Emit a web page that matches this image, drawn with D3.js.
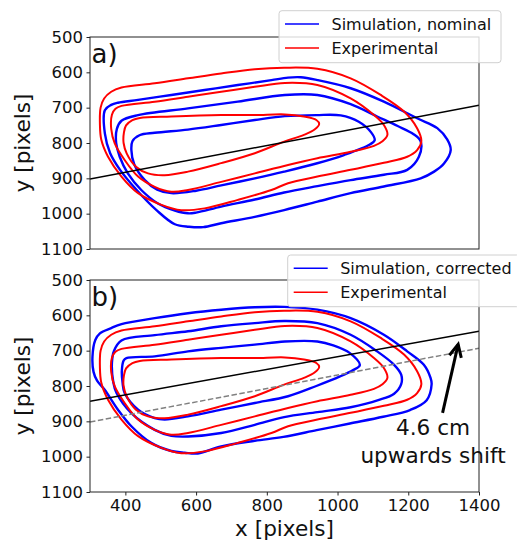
<!DOCTYPE html>
<html>
<head>
<meta charset="utf-8">
<script src="https://cdn.jsdelivr.net/npm/d3@7"></script>
<style>
  html, body { margin: 0; padding: 0; background: #fff; }
  svg text { font-family: "DejaVu Sans", sans-serif; fill: #111; }
</style>
</head>
<body>
<svg id="chart" width="517" height="544"></svg>
<script>
// Axis ticks
const xTicks = [400, 600, 800, 1000, 1200, 1400];
const yTicks = [500, 600, 700, 800, 900, 1000, 1100];

// Experimental contours (same in both panels), [x, y] in image pixels
const expOuter = [[330,700],[340,674],[360,655],[389,643],[483,631],[577,617],[671,603],[766,591],[849,587],[943,590],[1037,617],[1122,664],[1188,711],[1225,758],[1237,795],[1225,820],[1197,839],[1131,856],[1037,876],[943,895],[860,914],[813,933],[718,961],[624,985],[558,990],[502,975],[436,942],[389,895],[351,839],[332,791],[328,745]];
const expMiddle = [[362,720],[372,703],[389,695],[483,683],[577,669],[671,655],[766,641],[851,630],[943,636],[1037,674],[1103,721],[1131,749],[1141,777],[1127,795],[1103,808],[1037,825],[943,843],[860,862],[766,886],[671,910],[577,933],[530,938],[483,924],[436,895],[398,848],[370,801],[360,760]];
const expInner = [[396,770],[402,750],[420,735],[441,729],[530,725],[671,721],[766,721],[851,719],[905,725],[940,735],[948,746],[935,762],[905,777],[849,796],[766,829],[671,857],[577,881],[511,891],[464,886],[430,867],[404,830],[395,800]];

// Simulation, nominal
const nomOuter = [[342,707],[360,692],[379,686],[436,678],[530,664],[624,650],[718,636],[813,622],[860,615],[896,614],[943,622],[1037,645],[1131,683],[1225,730],[1282,758],[1310,790],[1320,820],[1301,858],[1273,881],[1235,900],[1131,923],[1037,942],[943,966],[849,990],[766,1009],[671,1027],[620,1038],[580,1037],[540,1030],[488,990],[432,933],[385,876],[357,829],[342,773]];
const nomMiddle = [[374,800],[376,760],[389,737],[436,721],[577,702],[718,683],[851,664],[943,664],[1037,690],[1112,725],[1170,752],[1215,775],[1235,795],[1230,839],[1197,876],[1131,890],[1037,905],[943,922],[849,940],[766,960],[671,980],[600,997],[577,999],[540,991],[492,971],[445,933],[407,886],[384,839]];
const nomInner = [[425,860],[417,820],[420,795],[440,778],[483,771],[577,762],[671,749],[766,735],[851,724],[940,721],[1009,722],[1060,740],[1095,770],[1105,792],[1090,805],[1018,834],[940,858],[849,881],[766,900],[671,920],[600,935],[530,942],[490,932],[455,905]];

// Simulation, corrected
const corOuter = [[310,760],[307,717],[315,670],[328,651],[360,636],[389,625],[483,608],[577,594],[671,584],[766,577],[849,576],[943,584],[1037,608],[1131,655],[1197,702],[1244,740],[1263,777],[1266,795],[1252,840],[1205,868],[1129,887],[1035,906],[941,925],[847,944],[766,955],[671,971],[605,991],[568,989],[530,984],[473,961],[417,914],[379,867],[341,810],[320,785]];
const corMiddle = [[366,790],[362,735],[368,700],[389,671],[483,656],[577,645],[671,631],[766,622],[849,616],[943,622],[1037,655],[1112,702],[1160,740],[1180,768],[1180,795],[1160,822],[1115,840],[1037,860],[943,874],[849,888],[766,910],[671,933],[577,943],[530,941],[483,924],[417,877],[375,820]];
const corInner = [[392,790],[390,758],[395,728],[403,721],[483,716],[577,702],[671,692],[766,683],[851,674],[943,674],[988,685],[1035,707],[1063,741],[1044,755],[1007,773],[940,800],[860,829],[766,848],[671,867],[577,886],[511,895],[483,891],[436,867],[398,820]];

// Reference line and its shifted copy (x endpoints, y endpoints)
const lineX = [300, 1400];
const refLineY = [902, 693];
const shiftedLineY = [843, 645];

// Arrow: tail and head in data coordinates
const arrowFrom = [1297, 876];
const arrowTo = [1341, 682];

const svg = d3.select("#chart");

const x = d3.scaleLinear().domain([300, 1400]).range([90, 479]);

const panels = [
  { top: 37, bottom: 249, tag: "a)", sim: [nomOuter, nomMiddle, nomInner],
    simLabel: "Simulation, nominal", legend: {x: 279, y: 10.7, w: 222, h: 52} },
  { top: 280, bottom: 492, tag: "b)", sim: [corOuter, corMiddle, corInner],
    simLabel: "Simulation, corrected", legend: {x: 287.7, y: 255, w: 232, h: 51.7} }
];

panels.forEach((p, i) => {
  const y = d3.scaleLinear().domain([500, 1100]).range([p.top, p.bottom]);
  const g = svg.append("g");
  const clipId = "clip" + i;
  g.append("clipPath").attr("id", clipId)
    .append("rect").attr("x", 90).attr("y", p.top).attr("width", 389).attr("height", p.bottom - p.top);

  const plot = g.append("g").attr("clip-path", `url(#${clipId})`);

  const smoothLine = d3.line().x(d => x(d[0])).y(d => y(d[1])).curve(d3.curveCatmullRomClosed.alpha(0.5));

  // Simulation contours
  p.sim.forEach(c => {
    plot.append("path").attr("d", smoothLine(c))
      .attr("fill", "none").attr("stroke", "#0000ff").attr("stroke-width", 2.4);
  });

  // Experimental contours
  [expOuter, expMiddle, expInner].forEach(c => {
    plot.append("path").attr("d", smoothLine(c))
      .attr("fill", "none").attr("stroke", "#ff0000").attr("stroke-width", 2);
  });

  // Straight lines
  if (i === 0) {
    plot.append("line")
      .attr("x1", x(lineX[0])).attr("y1", y(refLineY[0]))
      .attr("x2", x(lineX[1])).attr("y2", y(refLineY[1]))
      .attr("stroke", "#000").attr("stroke-width", 1.5);
  } else {
    plot.append("line")
      .attr("x1", x(lineX[0])).attr("y1", y(shiftedLineY[0]))
      .attr("x2", x(lineX[1])).attr("y2", y(shiftedLineY[1]))
      .attr("stroke", "#000").attr("stroke-width", 1.5);
    plot.append("line")
      .attr("x1", x(lineX[0])).attr("y1", y(refLineY[0]))
      .attr("x2", x(lineX[1])).attr("y2", y(refLineY[1]))
      .attr("stroke", "#808080").attr("stroke-width", 1.5)
      .attr("stroke-dasharray", "5.5,2.5");
  }

  // Frame
  g.append("rect").attr("x", 90).attr("y", p.top).attr("width", 389).attr("height", p.bottom - p.top)
    .attr("fill", "none").attr("stroke", "#222").attr("stroke-width", 1);

  // y axis
  const yAxis = d3.axisLeft(y).tickValues(yTicks).tickFormat(d3.format("d")).tickSize(3.5).tickPadding(3.5);
  const ya = g.append("g").attr("transform", "translate(90,0)").call(yAxis);
  ya.select(".domain").remove();
  ya.selectAll("line").attr("stroke", "#222");
  ya.selectAll("text").style("font-size", "16.5px").attr("fill", "#111");

  // y label
  g.append("text")
    .attr("transform", `translate(30,${(p.top + p.bottom) / 2}) rotate(-90)`)
    .attr("text-anchor", "middle").style("font-size", "21.6px").text("y [pixels]");

  // panel tag
  g.append("text").attr("x", 91.5).attr("y", p.top + 26).style("font-size", "26px").text(p.tag);

  // x axis on the lower panel only
  if (i === 1) {
    const xAxis = d3.axisBottom(x).tickValues(xTicks).tickFormat(d3.format("d")).tickSize(3.5).tickPadding(3.5);
    const xa = g.append("g").attr("transform", `translate(0,${p.bottom})`).call(xAxis);
    xa.select(".domain").remove();
    xa.selectAll("line").attr("stroke", "#222");
    xa.selectAll("text").style("font-size", "16.5px").attr("fill", "#111");

    g.append("text").attr("x", 284.5).attr("y", 536)
      .attr("text-anchor", "middle").style("font-size", "21.6px").text("x [pixels]");

    // arrow with open head
    const ax1 = x(arrowFrom[0]), ay1 = y(arrowFrom[1]);
    const ax2 = x(arrowTo[0]), ay2 = y(arrowTo[1]);
    g.append("line").attr("x1", ax1).attr("y1", ay1).attr("x2", ax2).attr("y2", ay2)
      .attr("stroke", "#000").attr("stroke-width", 3);
    const ang = Math.atan2(ay1 - ay2, ax1 - ax2);
    const hl = 14, spread = 0.45;
    const headPts = [
      [ax2 + hl * Math.cos(ang + spread), ay2 + hl * Math.sin(ang + spread)],
      [ax2, ay2],
      [ax2 + hl * Math.cos(ang - spread), ay2 + hl * Math.sin(ang - spread)]
    ];
    g.append("path").attr("d", d3.line()(headPts))
      .attr("fill", "none").attr("stroke", "#000").attr("stroke-width", 3)
      .attr("stroke-linejoin", "miter");

    g.append("text").attr("x", 433).attr("y", 435).attr("text-anchor", "middle")
      .style("font-size", "21.6px").text("4.6 cm");
    g.append("text").attr("x", 433).attr("y", 463).attr("text-anchor", "middle")
      .style("font-size", "21.6px").text("upwards shift");
  }

  // legend
  const L = p.legend;
  const lg = svg.append("g");
  lg.append("rect").attr("x", L.x).attr("y", L.y).attr("width", L.w).attr("height", L.h)
    .attr("rx", 3).attr("fill", "#fff").attr("fill-opacity", 0.8)
    .attr("stroke", "#d0d0d0").attr("stroke-width", 1);
  const entries = [{label: p.simLabel, color: "#0000ff"}, {label: "Experimental", color: "#ff0000"}];
  entries.forEach((e, k) => {
    const cy = L.y + 13.3 + k * 24;
    lg.append("line").attr("x1", L.x + 6).attr("x2", L.x + 40).attr("y1", cy).attr("y2", cy)
      .attr("stroke", e.color).attr("stroke-width", 1.6);
    lg.append("text").attr("x", L.x + 52.5).attr("y", cy + 5.8).style("font-size", "16px").text(e.label);
  });
});
</script>
</body>
</html>
